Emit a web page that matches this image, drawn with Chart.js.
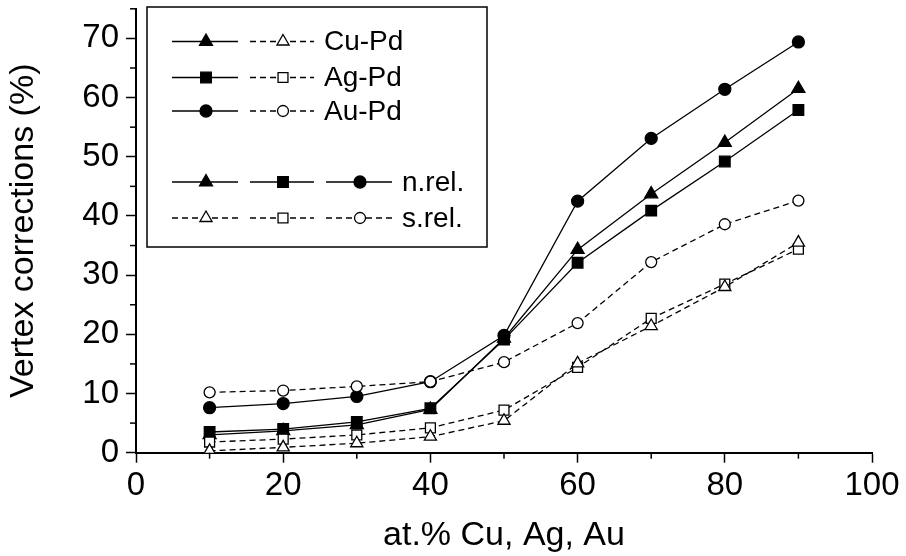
<!DOCTYPE html>
<html>
<head>
<meta charset="utf-8">
<title>Vertex corrections</title>
<script src="https://cdn.jsdelivr.net/npm/chart.js@4.4.1/dist/chart.umd.min.js"></script>
<style>
  html, body { margin: 0; padding: 0; background: #fff; }
  #wrap { width: 906px; height: 556px; }
</style>
</head>
<body>
<div id="wrap"><canvas id="myChart" width="906" height="556"></canvas></div>
<script>
// concentration (at.%)
const conc = [10, 20, 30, 40, 50, 60, 70, 80, 90];

// n.rel. (solid lines, filled markers)
const cuNrel = [3.0, 3.7, 4.7, 7.3, 19.3, 34.3, 43.7, 52.4, 61.5];
const agNrel = [3.5, 4.0, 5.2, 7.5, 19.1, 32.1, 40.9, 49.2, 57.9];
const auNrel = [7.6, 8.3, 9.5, 12.0, 19.8, 42.5, 53.1, 61.4, 69.4];

// s.rel. (dashed lines, open markers)
const cuSrel = [0.3, 0.9, 1.6, 2.7, 5.4, 15.1, 21.4, 28.0, 35.5];
const agSrel = [1.8, 2.3, 3.0, 4.2, 7.2, 14.4, 22.7, 28.5, 34.4];
const auSrel = [10.2, 10.5, 11.2, 12.0, 15.3, 21.9, 32.2, 38.6, 42.6];

const alloyNames = ['Cu-Pd', 'Ag-Pd', 'Au-Pd'];
const relNames = ['n.rel.', 's.rel.'];
const xTitle = 'at.% Cu, Ag, Au';
const yTitle = 'Vertex corrections (%)';

const FONT = '"Liberation Sans", Arial, Helvetica, sans-serif';
const styles = ['triangle', 'rect', 'circle'];
const radii = { triangle: 7.5, rect: 7.5, circle: 6 };

function pts(ys) {
	return conc.map((x, i) => ({ x: x, y: ys[i] }));
}

function makeSet(label, ys, style, filled) {
	return {
		label: label,
		data: pts(ys),
		showLine: true,
		borderColor: '#000',
		borderWidth: 1.3,
		borderDash: filled ? [] : [6, 4],
		pointStyle: style,
		pointRadius: filled ? radii[style] : radii[style] - 0.5,
		pointHoverRadius: filled ? radii[style] : radii[style] - 0.5,
		pointBorderColor: '#000',
		pointBorderWidth: 1.3,
		pointBackgroundColor: filled ? '#000' : '#fff',
		tension: 0
	};
}

// open (s.rel) first so they are drawn on top
const datasets = [
	makeSet('Cu-Pd s.rel.', cuSrel, 'triangle', false),
	makeSet('Ag-Pd s.rel.', agSrel, 'rect', false),
	makeSet('Au-Pd s.rel.', auSrel, 'circle', false),
	makeSet('Cu-Pd n.rel.', cuNrel, 'triangle', true),
	makeSet('Ag-Pd n.rel.', agNrel, 'rect', true),
	makeSet('Au-Pd n.rel.', auNrel, 'circle', true)
];

// minor ticks (y every 5, x every 10)
const minorTicks = {
	id: 'minorTicks',
	afterDraw(chart) {
		const ctx = chart.ctx;
		const xs = chart.scales.x, ys = chart.scales.y;
		ctx.save();
		ctx.strokeStyle = '#000';
		ctx.lineWidth = 1.5;
		for (let v = 5; v <= 75; v += 10) {
			const py = ys.getPixelForValue(v);
			ctx.beginPath(); ctx.moveTo(xs.left, py); ctx.lineTo(xs.left - 6, py); ctx.stroke();
		}
		for (let v = 10; v <= 90; v += 20) {
			const px = xs.getPixelForValue(v);
			ctx.beginPath(); ctx.moveTo(px, ys.bottom); ctx.lineTo(px, ys.bottom + 6); ctx.stroke();
		}
		ctx.restore();
	}
};

// custom legend box
const boxLegend = {
	id: 'boxLegend',
	afterDraw(chart) {
		const ctx = chart.ctx;
		ctx.save();
		ctx.lineWidth = 1.5;
		ctx.strokeStyle = '#000';
		ctx.fillStyle = '#fff';
		ctx.fillRect(147, 7, 340, 240);
		ctx.strokeRect(147, 7, 340, 240);

		function seg(x1, x2, y, style, filled) {
			ctx.strokeStyle = '#000';
			ctx.lineWidth = 1.3;
			ctx.setLineDash(filled ? [] : [6, 4]);
			ctx.beginPath(); ctx.moveTo(x1, y); ctx.lineTo(x2, y); ctx.stroke();
			ctx.setLineDash([]);
			ctx.fillStyle = filled ? '#000' : '#fff';
			const r = filled ? radii[style] : radii[style] - 0.5;
			Chart.helpers.drawPoint(ctx, { pointStyle: style, rotation: 0, radius: r, borderWidth: 1.3 }, (x1 + x2) / 2 + 1, y);
		}

		ctx.font = '28px ' + FONT;
		ctx.textBaseline = 'middle';
		const rowY = [41.5, 77.5, 111, 182, 218];
		for (let i = 0; i < 3; i++) {
			seg(172, 238, rowY[i], styles[i], true);
			seg(250, 314, rowY[i], styles[i], false);
			ctx.fillStyle = '#000';
			ctx.fillText(alloyNames[i], 324, rowY[i] + 1);
		}
		const segX = [[172, 238], [250, 314], [326, 392]];
		for (let j = 0; j < 2; j++) {
			for (let i = 0; i < 3; i++) {
				seg(segX[i][0], segX[i][1], rowY[3 + j], styles[i], j === 0);
			}
			ctx.fillStyle = '#000';
			ctx.fillText(relNames[j], 402, rowY[3 + j] + 1);
		}
		ctx.restore();
	}
};

const config = {
	type: 'scatter',
	data: { datasets: datasets },
	options: {
		responsive: false,
		animation: false,
		events: [],
		layout: { padding: { left: 0, top: 8, right: 34, bottom: 0 } },
		plugins: {
			legend: { display: false },
			tooltip: { enabled: false }
		},
		scales: {
			x: {
				type: 'linear',
				min: 0,
				max: 100,
				ticks: { stepSize: 20, color: '#000', padding: 3, font: { family: FONT, size: 33 } },
				grid: { drawOnChartArea: false, tickLength: 10, tickColor: '#000', tickWidth: 1.5 },
				border: { color: '#000', width: 2 },
				title: { display: true, text: xTitle, color: '#000', font: { family: FONT, size: 34 }, padding: { top: 0, bottom: 0 } },
				afterFit(s) { s.height = 103.3; s.paddingLeft = 0; s.paddingRight = 0; }
			},
			y: {
				type: 'linear',
				min: 0,
				max: 75,
				ticks: { stepSize: 10, includeBounds: false, color: '#000', padding: 7, font: { family: FONT, size: 33 } },
				grid: { drawOnChartArea: false, tickLength: 10, tickColor: '#000', tickWidth: 1.5 },
				border: { color: '#000', width: 2 },
				title: { display: true, text: yTitle, color: '#000', font: { family: FONT, size: 34 }, padding: { top: 3.6, bottom: 0 } },
				afterFit(s) { s.width = 136; s.paddingTop = 0; s.paddingBottom = 0; }
			}
		}
	},
	plugins: [minorTicks, boxLegend]
};

const myChart = new Chart(document.getElementById('myChart').getContext('2d'), config);
</script>
</body>
</html>
